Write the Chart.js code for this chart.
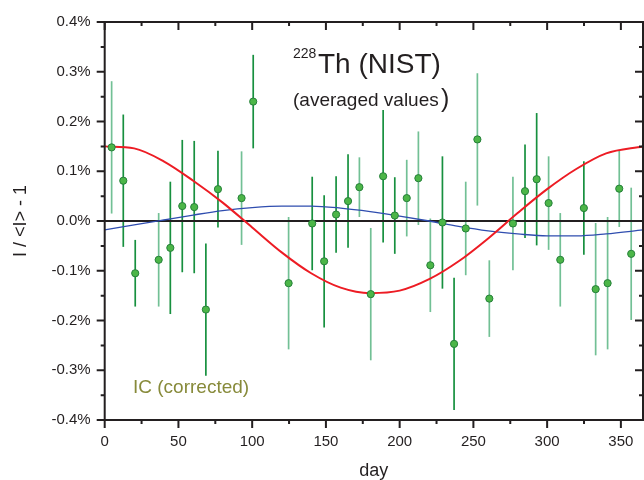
<!DOCTYPE html>
<html>
<head>
<meta charset="utf-8">
<script src="https://cdn.jsdelivr.net/npm/chart.js@4.4.0/dist/chart.umd.min.js"></script>
<style>
html, body { margin: 0; padding: 0; background: #fff; }
</style>
</head>
<body>
<canvas id="chart" width="644" height="480"></canvas>
<script>
// averaged 228Th (NIST) values, relative deviation in %
// group A: darker error bars in the original, group B: lighter ones
var daysA = [12.6, 20.7, 44.5, 52.6, 60.7, 68.6, 76.8, 100.7, 140.7, 148.8, 156.9, 165.0, 188.8, 196.7, 229.0, 236.9, 285.0, 292.9, 324.9];
var valsA = [0.081, -0.105, -0.054, 0.030, 0.028, -0.178, 0.064, 0.240, -0.005, -0.081, 0.013, 0.040, 0.090, 0.011, -0.003, -0.247, 0.060, 0.084, 0.026];
var errsA = [0.133, 0.067, 0.133, 0.133, 0.133, 0.133, 0.077, 0.094, 0.094, 0.133, 0.077, 0.094, 0.133, 0.077, 0.133, 0.133, 0.094, 0.133, 0.094];

var daysB = [4.7, 36.6, 92.8, 124.7, 172.7, 180.4, 204.8, 212.7, 220.8, 244.8, 252.7, 260.8, 276.8, 301.0, 308.9, 332.9, 341.0, 348.9, 357.0];
var valsB = [0.148, -0.078, 0.046, -0.125, 0.068, -0.147, 0.046, 0.086, -0.089, -0.015, 0.164, -0.156, -0.005, 0.036, -0.078, -0.137, -0.125, 0.065, -0.066];
var errsB = [0.133, 0.094, 0.094, 0.133, 0.060, 0.133, 0.077, 0.094, 0.094, 0.094, 0.133, 0.077, 0.094, 0.094, 0.094, 0.133, 0.133, 0.077, 0.133];

// fitted curves
var fitDays   = [0, 20, 40, 60, 80, 100, 120, 140, 160, 180, 200, 220, 240, 260, 280, 300, 320, 340, 365];
var fitRed    = [0.150, 0.146, 0.120, 0.081, 0.037, -0.013, -0.063, -0.105, -0.134, -0.145, -0.140, -0.117, -0.081, -0.035, 0.016, 0.064, 0.105, 0.136, 0.150];
var fitBlue   = [-0.018, -0.008, 0.002, 0.012, 0.021, 0.027, 0.030, 0.030, 0.026, 0.019, 0.010, 0.000, -0.011, -0.020, -0.026, -0.030, -0.030, -0.026, -0.018];

var dayTicks = [0, 50, 100, 150, 200, 250, 300, 350];
var pctTicks = [-0.4, -0.3, -0.2, -0.1, 0, 0.1, 0.2, 0.3, 0.4];

var FONT = '"Liberation Sans", Arial, sans-serif';
var INK = '#231f20';

function pts(xs, ys) {
    return xs.map(function (x, i) { return { x: x, y: ys[i] }; });
}

var errorBars = {
    id: 'errorBars',
    beforeDatasetsDraw: function (chart) {
        var ctx = chart.ctx, xs = chart.scales.x, ys = chart.scales.y, a = chart.chartArea;
        ctx.save();
        chart.data.datasets.forEach(function (ds) {
            if (!ds.errors) return;
            ctx.strokeStyle = ds.barColor;
            ctx.lineWidth = 1.7;
            ds.data.forEach(function (p, i) {
                var x = xs.getPixelForValue(p.x);
                ctx.beginPath();
                ctx.moveTo(x, ys.getPixelForValue(p.y + ds.errors[i]));
                ctx.lineTo(x, ys.getPixelForValue(p.y - ds.errors[i]));
                ctx.stroke();
            });
        });
        // zero line
        var y0 = ys.getPixelForValue(0);
        ctx.strokeStyle = INK;
        ctx.lineWidth = 2;
        ctx.beginPath();
        ctx.moveTo(a.left, y0);
        ctx.lineTo(a.right, y0);
        ctx.stroke();
        ctx.restore();
    }
};

var frame = {
    id: 'frame',
    afterDraw: function (chart) {
        var ctx = chart.ctx, a = chart.chartArea, xs = chart.scales.x, ys = chart.scales.y;
        ctx.save();
        ctx.strokeStyle = INK;
        ctx.lineWidth = 2;
        ctx.strokeRect(a.left, a.top, a.right - a.left, a.bottom - a.top);

        function tickX(v, len) {
            var x = xs.getPixelForValue(v);
            ctx.beginPath();
            ctx.moveTo(x, a.bottom); ctx.lineTo(x, a.bottom + len);   // bottom: outward
            ctx.moveTo(x, a.top); ctx.lineTo(x, a.top + len);         // top: inward
            ctx.stroke();
        }
        function tickY(v, len) {
            var y = ys.getPixelForValue(v);
            ctx.beginPath();
            ctx.moveTo(a.left, y); ctx.lineTo(a.left - len, y);       // left: outward
            ctx.moveTo(a.right, y); ctx.lineTo(a.right - len, y);     // right: inward
            ctx.stroke();
        }
        dayTicks.forEach(function (v) { tickX(v, 8); tickX(v + 25, 4); });
        pctTicks.forEach(function (v, i) {
            tickY(v, 8);
            if (i < pctTicks.length - 1) tickY((v + pctTicks[i + 1]) / 2, 4);
        });

        // annotations
        ctx.fillStyle = INK;
        ctx.textBaseline = 'alphabetic';
        ctx.textAlign = 'left';
        ctx.font = '14px ' + FONT;
        ctx.fillText('228', 293, 58);
        ctx.font = '28px ' + FONT;
        ctx.fillText('Th (NIST)', 318, 73);
        ctx.font = '19px ' + FONT;
        ctx.fillText('(averaged values', 293, 106);
        ctx.font = '25px ' + FONT;
        ctx.fillText(')', 441, 107);

        ctx.fillStyle = '#878a3a';
        ctx.font = '19px ' + FONT;
        ctx.fillText('IC (corrected)', 133, 393);
        ctx.restore();
    }
};

new Chart(document.getElementById('chart').getContext('2d'), {
    type: 'scatter',
    data: {
        datasets: [
            {
                label: 'A', data: pts(daysA, valsA), errors: errsA, barColor: '#17903f',
                pointRadius: 3.6, pointBackgroundColor: '#4cb648', pointBorderColor: '#25803a',
                pointBorderWidth: 1, showLine: false, order: 0
            },
            {
                label: 'B', data: pts(daysB, valsB), errors: errsB, barColor: '#72c095',
                pointRadius: 3.6, pointBackgroundColor: '#4cb648', pointBorderColor: '#25803a',
                pointBorderWidth: 1, showLine: false, order: 0
            },
            {
                type: 'line', label: 'annual', data: pts(fitDays, fitRed),
                borderColor: '#ed1c24', borderWidth: 2, pointRadius: 0,
                cubicInterpolationMode: 'monotone', order: 1
            },
            {
                type: 'line', label: 'small', data: pts(fitDays, fitBlue),
                borderColor: '#2f4daf', borderWidth: 1.3, pointRadius: 0,
                cubicInterpolationMode: 'monotone', order: 1
            }
        ]
    },
    options: {
        responsive: false,
        animation: false,
        layout: { autoPadding: false, padding: { top: 22, right: 1, left: 0, bottom: 0 } },
        plugins: { legend: { display: false }, tooltip: { enabled: false } },
        scales: {
            x: {
                type: 'linear', min: 0, max: 365,
                grid: { display: false, drawTicks: false },
                border: { display: false },
                afterBuildTicks: function (s) { s.ticks = dayTicks.map(function (v) { return { value: v }; }); },
                afterFit: function (s) { s.height = 60; s.paddingLeft = 0; s.paddingRight = 0; },
                ticks: { font: { size: 15, family: FONT }, color: INK, padding: 13, maxRotation: 0, autoSkip: false },
                title: { display: true, text: 'day', font: { size: 18, family: FONT }, color: INK, padding: { top: 0, bottom: -2 } }
            },
            y: {
                min: -0.4, max: 0.4,
                grid: { display: false, drawTicks: false },
                border: { display: false },
                afterBuildTicks: function (s) { s.ticks = pctTicks.map(function (v) { return { value: v }; }); },
                afterFit: function (s) { s.width = 104.7; s.paddingTop = 0; s.paddingBottom = 0; },
                ticks: {
                    font: { size: 15, family: FONT }, color: INK, padding: 14, autoSkip: false,
                    callback: function (v) { return v.toFixed(1) + '%'; }
                },
                title: { display: true, text: 'I / <I> - 1', font: { size: 18, family: FONT }, color: INK, padding: { top: 10, bottom: 0 } }
            }
        }
    },
    plugins: [errorBars, frame]
});
</script>
</body>
</html>
